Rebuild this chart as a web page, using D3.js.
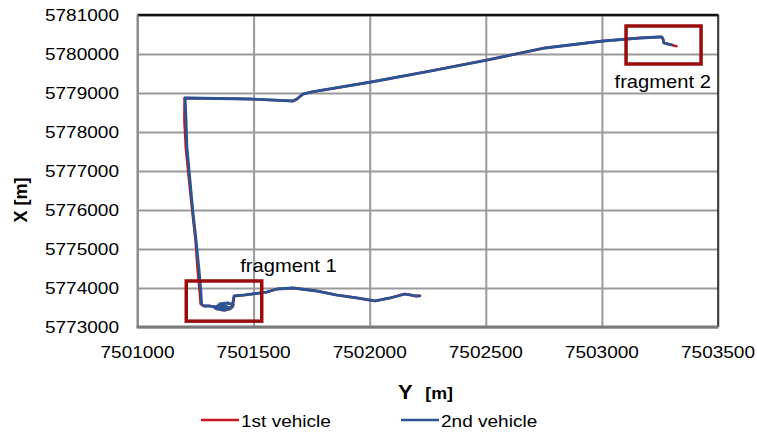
<!DOCTYPE html>
<html>
<head>
<meta charset="utf-8">
<script src="https://cdn.jsdelivr.net/npm/d3@7/dist/d3.min.js"></script>
<style>
  html, body { margin: 0; padding: 0; background: #fff; }
  svg { display: block; font-family: "Liberation Sans", Arial, sans-serif; }
</style>
</head>
<body>
<svg id="chart" width="757" height="432"></svg>
<script>
// Axis ticks (Y = easting, X = northing, geodetic convention)
const eastTicks = [7501000, 7501500, 7502000, 7502500, 7503000, 7503500];
const northTicks = [5773000, 5774000, 5775000, 5776000, 5777000, 5778000, 5779000, 5780000, 5781000];

// 2nd vehicle track
const vehicle2East = [
  7502213, 7502196, 7502174, 7502152, 7502088, 7502023, 7501945, 7501859, 7501773, 7501670, 7501601, 7501558,
  7501463, 7501416, 7501411, 7501407, 7501390, 7501377, 7501347, 7501340, 7501355, 7501390, 7501411, 7501405,
  7501398, 7501364, 7501338, 7501350, 7501380, 7501400, 7501370, 7501345, 7501330, 7501360, 7501395, 7501372,
  7501338, 7501312, 7501286, 7501276, 7501273, 7501265, 7501252, 7501239, 7501226, 7501213,
  7501209, 7501205, 7501484, 7501670, 7501687, 7501713, 7501751, 7502006, 7502260, 7502505, 7502755, 7503005,
  7503164, 7503246, 7503258, 7503263, 7503267, 7503285, 7503302
];
const vehicle2North = [
  5773795, 5773795, 5773821, 5773846, 5773744, 5773667, 5773744, 5773820, 5773923, 5774000, 5773974, 5773897,
  5773821, 5773795, 5773641, 5773513, 5773462, 5773436, 5773462, 5773513, 5773590, 5773615, 5773564, 5773500,
  5773462, 5773436, 5773470, 5773520, 5773530, 5773480, 5773450, 5773470, 5773500, 5773500, 5773470, 5773445,
  5773513, 5773538, 5773538, 5773590, 5773897, 5774462, 5775231, 5775923, 5776769, 5777615,
  5778308, 5778872, 5778846, 5778795, 5778846, 5778974, 5779026, 5779282, 5779564, 5779846, 5780154, 5780333,
  5780410, 5780436, 5780436, 5780385, 5780282, 5780256, 5780231
];

// 1st vehicle track
const vehicle1East = [
  7502217, 7502196, 7502174, 7502150, 7502088, 7502023, 7501945, 7501859, 7501773, 7501670, 7501601, 7501558,
  7501463, 7501416, 7501413, 7501409, 7501392, 7501377, 7501345, 7501340, 7501355, 7501390, 7501413, 7501405,
  7501398, 7501364, 7501338, 7501312, 7501284, 7501272, 7501268, 7501259, 7501250, 7501237, 7501222, 7501208,
  7501202, 7501203, 7501484, 7501670, 7501687, 7501713, 7501751, 7502006, 7502260, 7502505, 7502755, 7503005,
  7503164, 7503246, 7503258, 7503263, 7503267, 7503287, 7503321
];
const vehicle1North = [
  5773800, 5773795, 5773821, 5773846, 5773744, 5773667, 5773744, 5773820, 5773923, 5774000, 5773974, 5773897,
  5773821, 5773795, 5773641, 5773513, 5773455, 5773430, 5773462, 5773513, 5773590, 5773615, 5773564, 5773500,
  5773462, 5773436, 5773513, 5773538, 5773538, 5773590, 5773897, 5774462, 5775231, 5775923, 5776769, 5777615,
  5778308, 5778872, 5778846, 5778795, 5778846, 5778974, 5779026, 5779282, 5779564, 5779846, 5780154, 5780333,
  5780410, 5780436, 5780436, 5780385, 5780282, 5780256, 5780200
];

// Highlighted fragments: [min, max] easting and northing
const fragmentNames = ["fragment 1", "fragment 2"];
const fragmentEast = [[7501210, 7501535], [7503104, 7503427]];
const fragmentNorth = [[5773150, 5774180], [5779744, 5780718]];

const seriesNames = ["1st vehicle", "2nd vehicle"];
const seriesColors = ["#c8161d", "#2a5494"];

const svg = d3.select("#chart");
const plot = { left: 137.5, right: 718, top: 15, bottom: 327 };
const stretch = 1.12;

const x = d3.scaleLinear().domain([eastTicks[0], eastTicks[eastTicks.length - 1]]).range([plot.left, plot.right]);
const y = d3.scaleLinear().domain([northTicks[0], northTicks[northTicks.length - 1]]).range([plot.bottom, plot.top]);

// Gridlines
const gx = svg.append("g")
  .attr("transform", `translate(0,${plot.bottom})`)
  .call(d3.axisBottom(x).tickValues(eastTicks).tickSize(-(plot.bottom - plot.top)).tickFormat(""));
gx.select(".domain").remove();
gx.selectAll("line").attr("stroke", "#9a9a9a").attr("stroke-width", 2);

const gy = svg.append("g")
  .attr("transform", `translate(${plot.left},0)`)
  .call(d3.axisLeft(y).tickValues(northTicks).tickSize(-(plot.right - plot.left)).tickFormat(""));
gy.select(".domain").remove();
gy.selectAll("line").attr("stroke", "#9a9a9a").attr("stroke-width", 2);

// Frame
svg.append("line").attr("x1", plot.left).attr("x2", plot.right + 0.5).attr("y1", plot.top).attr("y2", plot.top)
  .attr("stroke", "#111").attr("stroke-width", 2.5);
svg.append("line").attr("x1", plot.right).attr("x2", plot.right).attr("y1", plot.top).attr("y2", plot.bottom)
  .attr("stroke", "#222").attr("stroke-width", 1.5);
svg.append("line").attr("x1", plot.left).attr("x2", plot.left).attr("y1", plot.top).attr("y2", plot.bottom)
  .attr("stroke", "#8a8a8a").attr("stroke-width", 2);
svg.append("line").attr("x1", plot.left - 1).attr("x2", plot.right + 0.5).attr("y1", plot.bottom).attr("y2", plot.bottom)
  .attr("stroke", "#7a7a7a").attr("stroke-width", 3);

// Tick labels
const fmt = d3.format("d");
svg.append("g").selectAll("text").data(northTicks).join("text")
  .attr("transform", d => `translate(119,${y(d)}) scale(${stretch},1)`)
  .attr("text-anchor", "end").attr("dy", "0.35em")
  .attr("font-size", 17).attr("fill", "#000")
  .text(fmt);
svg.append("g").selectAll("text").data(eastTicks).join("text")
  .attr("transform", d => `translate(${x(d)},358) scale(${stretch},1)`)
  .attr("text-anchor", "middle")
  .attr("font-size", 17).attr("fill", "#000")
  .text(fmt);

// Axis titles
const yTitle = svg.append("text")
  .attr("transform", `translate(398,399) scale(1.05,1)`)
  .attr("font-weight", "bold").attr("fill", "#000");
yTitle.append("tspan").attr("font-size", 21).text("Y");
yTitle.append("tspan").attr("font-size", 17).attr("dx", 12).text("[m]");

svg.append("text")
  .attr("transform", "translate(27,200) rotate(-90)")
  .attr("text-anchor", "middle")
  .attr("font-weight", "bold").attr("font-size", 18).attr("fill", "#000")
  .text("X [m]");

// Tracks
const line = d3.line().x(d => x(d[0])).y(d => y(d[1]));
const tracks = [
  d3.zip(vehicle1East, vehicle1North),
  d3.zip(vehicle2East, vehicle2North)
];
svg.append("g").selectAll("path").data(tracks).join("path")
  .attr("d", line)
  .attr("fill", "none")
  .attr("stroke", (d, i) => seriesColors[i])
  .attr("stroke-width", (d, i) => i ? 2.8 : 2.6)
  .attr("stroke-linejoin", "round")
  .attr("stroke-linecap", "round");

// Fragment boxes
svg.append("g").selectAll("rect").data(fragmentNames).join("rect")
  .attr("x", (d, i) => x(fragmentEast[i][0]))
  .attr("y", (d, i) => y(fragmentNorth[i][1]))
  .attr("width", (d, i) => x(fragmentEast[i][1]) - x(fragmentEast[i][0]))
  .attr("height", (d, i) => y(fragmentNorth[i][0]) - y(fragmentNorth[i][1]))
  .attr("fill", "none").attr("stroke", "#9a0c0c").attr("stroke-width", 3.5);

// Fragment labels
const labelAt = [[7501650, 5774420], [7503262, 5779140]];
svg.append("g").selectAll("text").data(fragmentNames).join("text")
  .attr("transform", (d, i) => `translate(${x(labelAt[i][0])},${y(labelAt[i][1])}) scale(${stretch},1)`)
  .attr("text-anchor", "middle")
  .attr("font-size", 18).attr("fill", "#000")
  .text(d => d);

// Legend
const legend = svg.append("g").selectAll("g").data(seriesNames).join("g")
  .attr("transform", (d, i) => `translate(${201 + i * 200},420)`);
legend.append("line").attr("x1", 0).attr("x2", 38).attr("y1", 0).attr("y2", 0)
  .attr("stroke", (d, i) => seriesColors[i]).attr("stroke-width", 2.5);
legend.append("text")
  .attr("transform", `translate(40,6.5) scale(${stretch},1)`)
  .attr("font-size", 17).attr("fill", "#000")
  .text(d => d);
</script>
</body>
</html>
